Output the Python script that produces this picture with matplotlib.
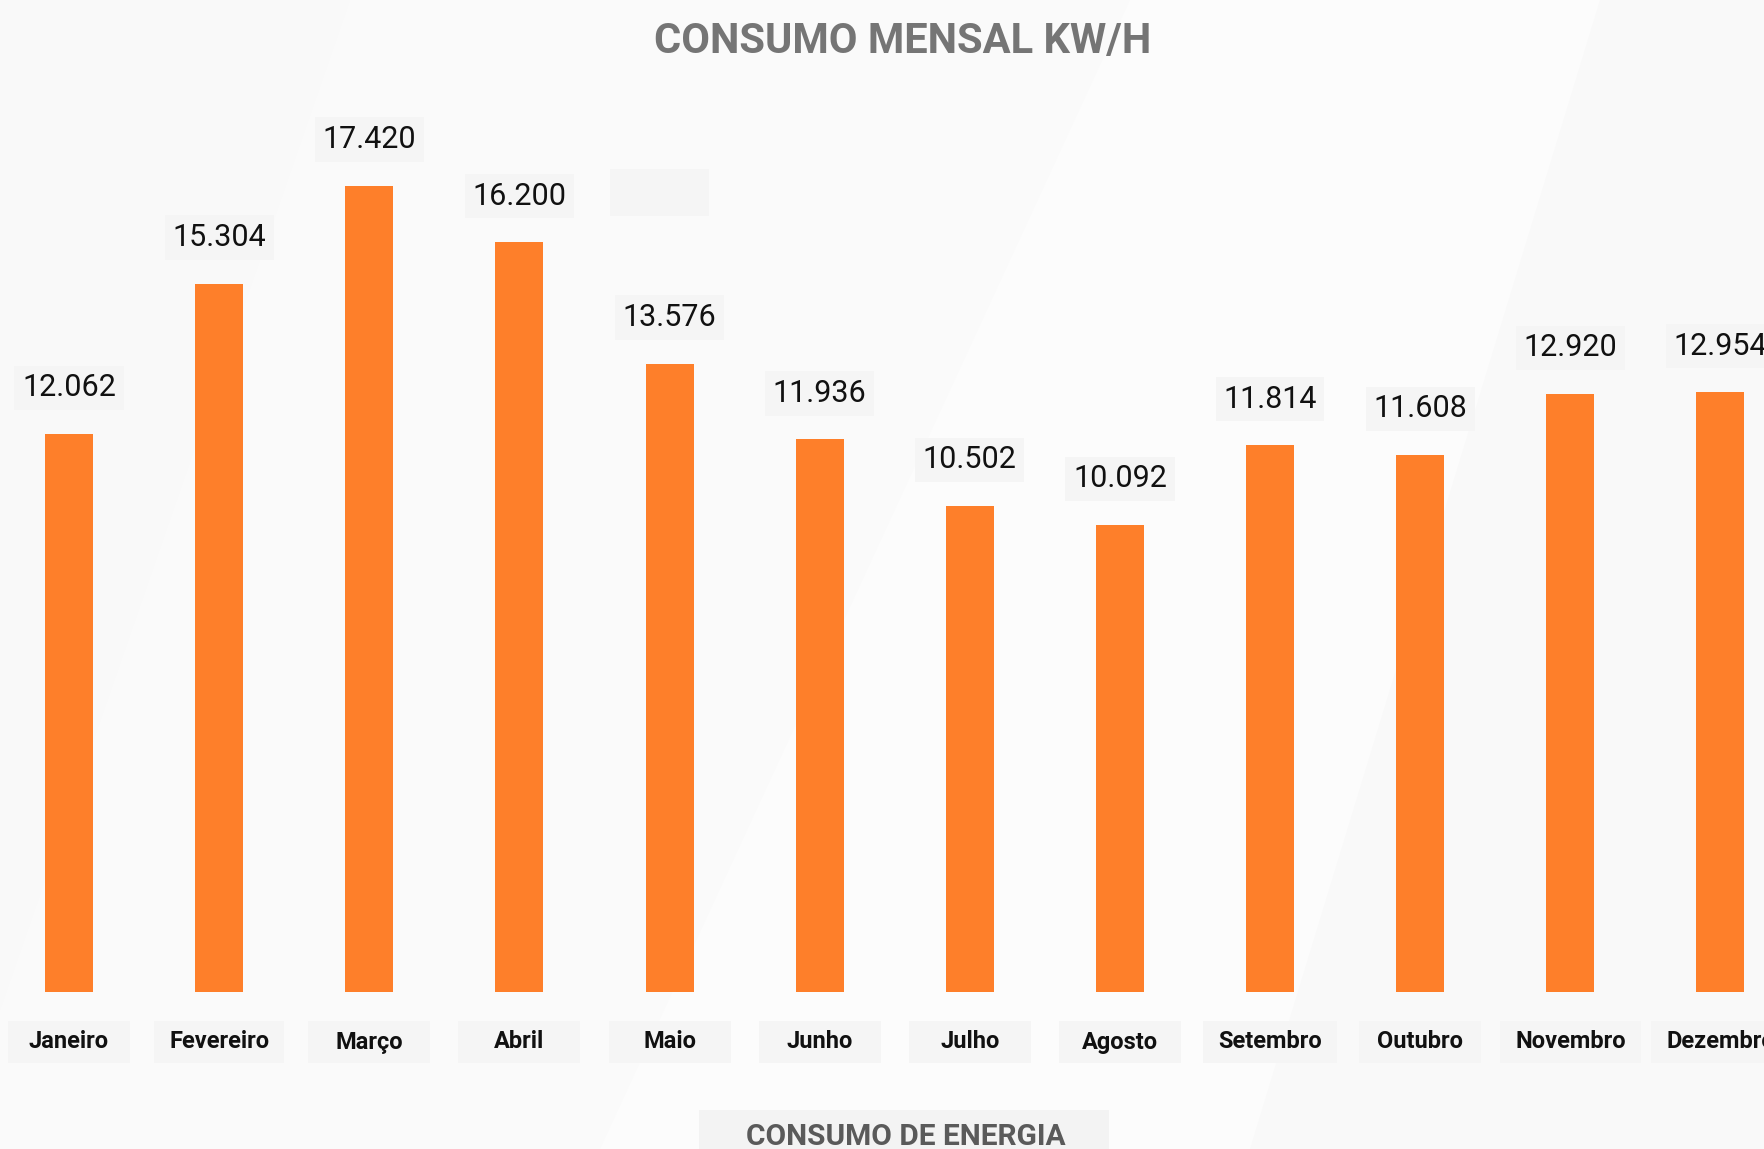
import matplotlib
matplotlib.use("Agg")
import matplotlib.pyplot as plt
from matplotlib.patches import Rectangle, Polygon
import numpy as np

# ---- data ----
months = ["Janeiro", "Fevereiro", "Março", "Abril", "Maio", "Junho",
          "Julho", "Agosto", "Setembro", "Outubro", "Novembro", "Dezembro"]
consumo = [12062, 15304, 17420, 16200, 13576, 11936,
           10502, 10092, 11814, 11608, 12920, 12954]
title = "CONSUMO MENSAL KW/H"
subtitle = "CONSUMO DE ENERGIA"

W, H = 1764, 1149
plt.rcParams['font.family'] = ['Roboto', 'DejaVu Sans']
fig = plt.figure(figsize=(W / 100, H / 100), dpi=100)
fig.patch.set_facecolor('#F9F9F9')

# subtle diagonal background bands
def fpoly(pts, color):
    fig.patches.append(Polygon([(x / W, 1 - y / H) for x, y in pts], closed=True,
                               transform=fig.transFigure, facecolor=color,
                               edgecolor='none', zorder=0))
fpoly([(350, 0), (1600, 0), (1250, 1149), (0, 1149), (0, 1010)], '#FAFAFA')
fpoly([(1130, 0), (1600, 0), (1250, 1149), (600, 1149)], '#FCFCFC')

ax = fig.add_axes([0, 157 / H, 1, 992 / H])
ax.set_zorder(3)
ax.set_facecolor('none')
x = np.arange(len(months))
ax.bar(x, consumo, width=0.32, color='#FE7F2A', zorder=3)
ax.set_xlim(-0.46, 11.29)
ax.set_ylim(0, 21430)
ax.axis('off')

for xi, v in zip(x, consumo):
    ax.annotate(f"{v:,}".replace(",", "."), (xi, v), xytext=(0, 46),
                textcoords='offset pixels', ha='center', va='center',
                fontsize=22, color='#111111', annotation_clip=False,
                bbox=dict(boxstyle='square,pad=0.25', facecolor='#F5F5F5',
                          edgecolor='none'))

month_texts = []
for xi, m in zip(x, months):
    t = ax.annotate(m, (xi, 0), xytext=(0, -50), textcoords='offset pixels',
                    ha='center', va='center', fontsize=17, fontweight='bold',
                    color='#111111', annotation_clip=False, zorder=5)
    month_texts.append(t)

# stray empty label box
fig.patches.append(Rectangle((610 / W, 1 - 216 / H), 99 / W, 47 / H,
                             transform=fig.transFigure, facecolor='#F5F5F5',
                             edgecolor='none', zorder=1))

fig.text(903 / W, 1 - 42 / H, title, ha='center', va='center', fontsize=30,
         fontweight='bold', color='#757575', zorder=4)

fig.patches.append(Rectangle((699 / W, 0), 410 / W, 39 / H,
                             transform=fig.transFigure, facecolor='#F3F3F3',
                             edgecolor='none', zorder=1))
fig.text(906 / W, 1 - 1137 / H, subtitle, ha='center', va='center', fontsize=21.5,
         fontweight='bold', color='#5A5A5A', zorder=4)

# fixed-width boxes for month labels
fig.canvas.draw()
r = fig.canvas.get_renderer()
inv = fig.transFigure.inverted()
for t in month_texts:
    bb = t.get_window_extent(r)
    cx = (bb.x0 + bb.x1) / 2
    cy = (bb.y0 + bb.y1) / 2
    w = max(122, bb.width + 30)
    h = 42
    (fx0, fy0) = inv.transform((cx - w / 2, cy - h / 2))
    (fx1, fy1) = inv.transform((cx + w / 2, cy + h / 2))
    fig.patches.append(Rectangle((fx0, fy0), fx1 - fx0, fy1 - fy0,
                                 transform=fig.transFigure, facecolor='#F5F5F5',
                                 edgecolor='none', zorder=1))

fig.savefig("out.png", dpi=100, facecolor=fig.get_facecolor())
